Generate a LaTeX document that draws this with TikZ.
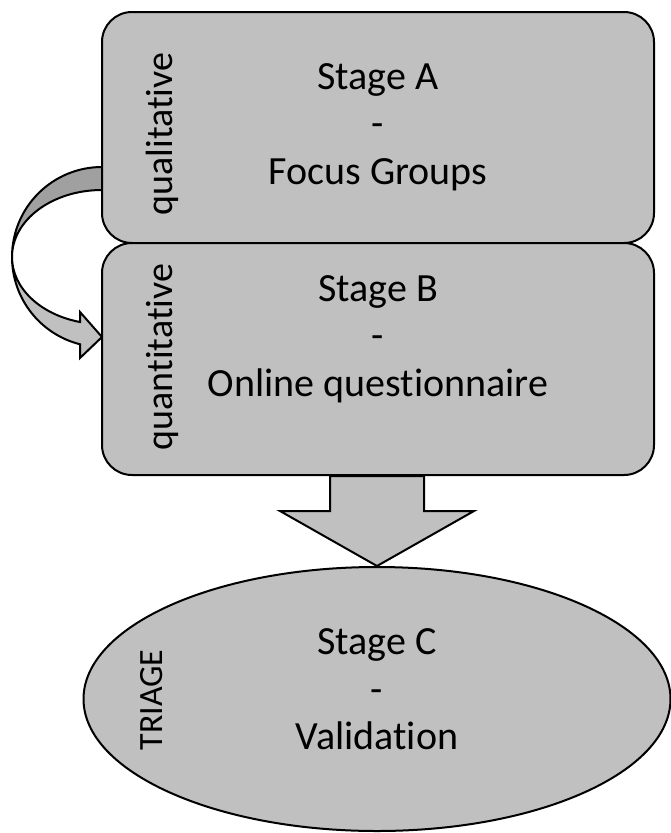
\documentclass[tikz,border=0pt]{standalone}
\usepackage{fontspec}
\setmainfont{Carlito}[Ligatures=NoCommon]
\usetikzlibrary{shapes.geometric,calc}
\definecolor{shade}{HTML}{C0C0C0}
\definecolor{shadedark}{HTML}{A0A0A0}

\begin{document}
\begin{tikzpicture}[x=1pt,y=-1pt,line width=2pt,
  box/.style={draw,fill=shade,rounded corners=30pt,minimum width=552pt,inner sep=0pt},
  stage/.style={font=\fontsize{40}{47.5}\selectfont,align=center,inner sep=0pt},
  side/.style={font=\fontsize{38}{40}\selectfont,rotate=90,anchor=base,inner sep=0pt}]
\useasboundingbox (0,0) rectangle (670,833);
% curved arrow from stage A to stage B
\draw[fill=shadedark] (102,167) arc[start angle=270,end angle=180,radius=90]
  arc[start angle=180,end angle=270,x radius=90,y radius=67] -- cycle;
\draw[fill=shade] (12,257) arc[start angle=180,end angle=104.15,radius=90]
  -- (80,358) -- (102,337) -- (80,312) -- (80,322)
  arc[start angle=104.15,end angle=180,x radius=90,y radius=67] -- cycle;
\node[box,minimum height=231pt] (boxA) at (378,127.5) {};
\node[box,minimum height=232pt] (boxB) at (378,359) {};
\node[draw,fill=shade,ellipse,minimum width=587pt,minimum height=264pt,inner sep=0pt] (ell) at (377,699) {};
\draw[fill=shade] ($(ell.north |- boxB.south)+(-47,0)$) -- ++(0,35) -- ++(-50,0) -- (ell.north)
  -- ($(ell.north |- boxB.south)+(97,35)$) -- ++(-50,0) -- ++(0,-35) -- cycle;
\node[stage] (txtA) at (378,127.2) {Stage A\\-\\Focus Groups};
\node[stage] (txtB) at (378,338.9) {Stage B\\-\\Online questionnaire};
\node[stage] (txtC) at (377,689.6) {Stage C\\-\\Validation};
\node[side] (qual) at (172,134) {qualitative};
\node[side] (quant) at (172,357) {quantitative};
\node[side,font=\fontsize{34}{36}\selectfont] (triage) at (162,700) {TRIAGE};
\end{tikzpicture}
\end{document}
